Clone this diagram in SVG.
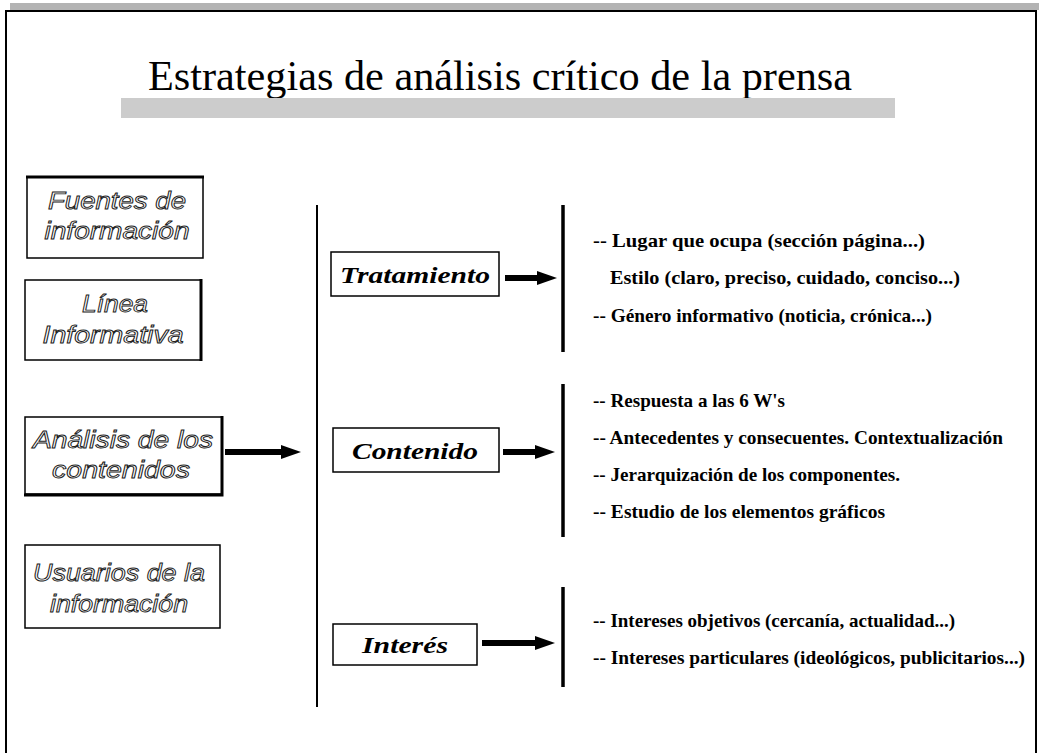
<svg xmlns="http://www.w3.org/2000/svg" width="1039" height="753" viewBox="0 0 1039 753">
<style>
.box{fill:#fff;stroke:#000;stroke-width:1.5}
.lt{font-family:"Liberation Sans","DejaVu Sans",sans-serif;font-style:italic;font-size:23px;fill:#fff;stroke:#222;stroke-width:0.9;text-anchor:middle}
.mt{font-family:"Liberation Serif","DejaVu Serif",serif;font-style:italic;font-weight:bold;font-size:24px;fill:#000;text-anchor:middle}
.rt{font-family:"Liberation Serif","DejaVu Serif",serif;font-weight:bold;font-size:19px;fill:#000}
.vl{stroke:#000;stroke-width:3.5}
.arr{stroke:#000;stroke-width:6;fill:none;marker-end:url(#ah)}
</style>
<defs>
<marker id="ah" markerUnits="userSpaceOnUse" markerWidth="22" markerHeight="22" refX="2" refY="11" orient="auto">
<polygon points="0,4 20,11 0,18" fill="#000"/>
</marker>
</defs>
<rect x="0" y="0" width="1039" height="753" fill="#fff"/>
<rect x="10" y="3" width="1029" height="7" fill="#b3b3b3"/>
<path d="M6,753 V11 H1036 V753" fill="none" stroke="#000" stroke-width="2"/>
<text x="500" y="90" font-family="'Liberation Serif','DejaVu Serif',serif" font-size="42" text-anchor="middle" textLength="704" lengthAdjust="spacingAndGlyphs">Estrategias de análisis crítico de la prensa</text>
<rect x="121" y="98" width="774" height="20" fill="#cccccc"/>

<g id="fuentes">
<rect class="box" x="27" y="177" width="176" height="81"/>
<line x1="26" y1="177" x2="204" y2="177" stroke="#000" stroke-width="3"/>
<text class="lt" x="117" y="209" textLength="138" lengthAdjust="spacingAndGlyphs">Fuentes de</text>
<text class="lt" x="117" y="239" textLength="145" lengthAdjust="spacingAndGlyphs">información</text>
</g>
<g id="linea">
<rect class="box" x="25" y="280" width="176" height="80"/>
<line x1="201" y1="279" x2="201" y2="361" stroke="#000" stroke-width="3"/>
<text class="lt" x="115" y="312" textLength="66" lengthAdjust="spacingAndGlyphs">Línea</text>
<text class="lt" x="113" y="343" textLength="141" lengthAdjust="spacingAndGlyphs">Informativa</text>
</g>
<g id="analisis">
<rect class="box" x="25" y="417" width="197" height="77"/>
<path d="M222,416 V495 H24" fill="none" stroke="#000" stroke-width="3"/>
<text class="lt" x="123" y="448" textLength="180" lengthAdjust="spacingAndGlyphs">Análisis de los</text>
<text class="lt" x="121" y="478" textLength="138" lengthAdjust="spacingAndGlyphs">contenidos</text>
</g>
<g id="usuarios">
<rect class="box" x="25" y="545" width="195" height="83"/>
<text class="lt" x="119" y="581" textLength="172" lengthAdjust="spacingAndGlyphs">Usuarios de la</text>
<text class="lt" x="119" y="612" textLength="138" lengthAdjust="spacingAndGlyphs">información</text>
</g>

<g id="tratamiento">
<rect class="box" x="331" y="252" width="168" height="44"/>
<text class="mt" x="415" y="283" textLength="150" lengthAdjust="spacingAndGlyphs">Tratamiento</text>
</g>
<g id="contenido">
<rect class="box" x="333" y="428" width="166" height="44"/>
<text class="mt" x="415" y="459" textLength="126" lengthAdjust="spacingAndGlyphs">Contenido</text>
</g>
<g id="interes">
<rect class="box" x="333" y="624" width="144" height="41"/>
<text class="mt" x="405" y="653" textLength="86" lengthAdjust="spacingAndGlyphs">Interés</text>
</g>

<g id="connectors">
<line class="arr" x1="225" y1="452" x2="283" y2="452"/>
<line x1="317" y1="205" x2="317" y2="707" stroke="#000" stroke-width="2"/>
<line class="arr" x1="505" y1="278" x2="539" y2="278"/>
<line class="arr" x1="503" y1="452" x2="537" y2="452"/>
<line class="arr" x1="482" y1="643" x2="537" y2="643"/>
<line class="vl" x1="563" y1="205" x2="563" y2="352"/>
<line class="vl" x1="563" y1="384" x2="563" y2="537"/>
<line class="vl" x1="563" y1="587" x2="563" y2="687"/>
</g>

<g id="tratamiento-items">
<text class="rt" x="593" y="247" textLength="332" lengthAdjust="spacingAndGlyphs">-- Lugar que ocupa (sección página...)</text>
<text class="rt" x="610" y="284" textLength="350" lengthAdjust="spacingAndGlyphs">Estilo (claro, preciso, cuidado, conciso...)</text>
<text class="rt" x="593" y="322" textLength="339" lengthAdjust="spacingAndGlyphs">-- Género informativo (noticia, crónica...)</text>
</g>
<g id="contenido-items">
<text class="rt" x="593" y="407" textLength="192" lengthAdjust="spacingAndGlyphs">-- Respuesta a las 6 W's</text>
<text class="rt" x="593" y="444" textLength="410" lengthAdjust="spacingAndGlyphs">-- Antecedentes y consecuentes. Contextualización</text>
<text class="rt" x="593" y="481" textLength="307" lengthAdjust="spacingAndGlyphs">-- Jerarquización de los componentes.</text>
<text class="rt" x="593" y="518" textLength="292" lengthAdjust="spacingAndGlyphs">-- Estudio de los elementos gráficos</text>
</g>
<g id="interes-items">
<text class="rt" x="593" y="627" textLength="362" lengthAdjust="spacingAndGlyphs">-- Intereses objetivos (cercanía, actualidad...)</text>
<text class="rt" x="593" y="664" textLength="432" lengthAdjust="spacingAndGlyphs">-- Intereses particulares (ideológicos, publicitarios...)</text>
</g>
</svg>
